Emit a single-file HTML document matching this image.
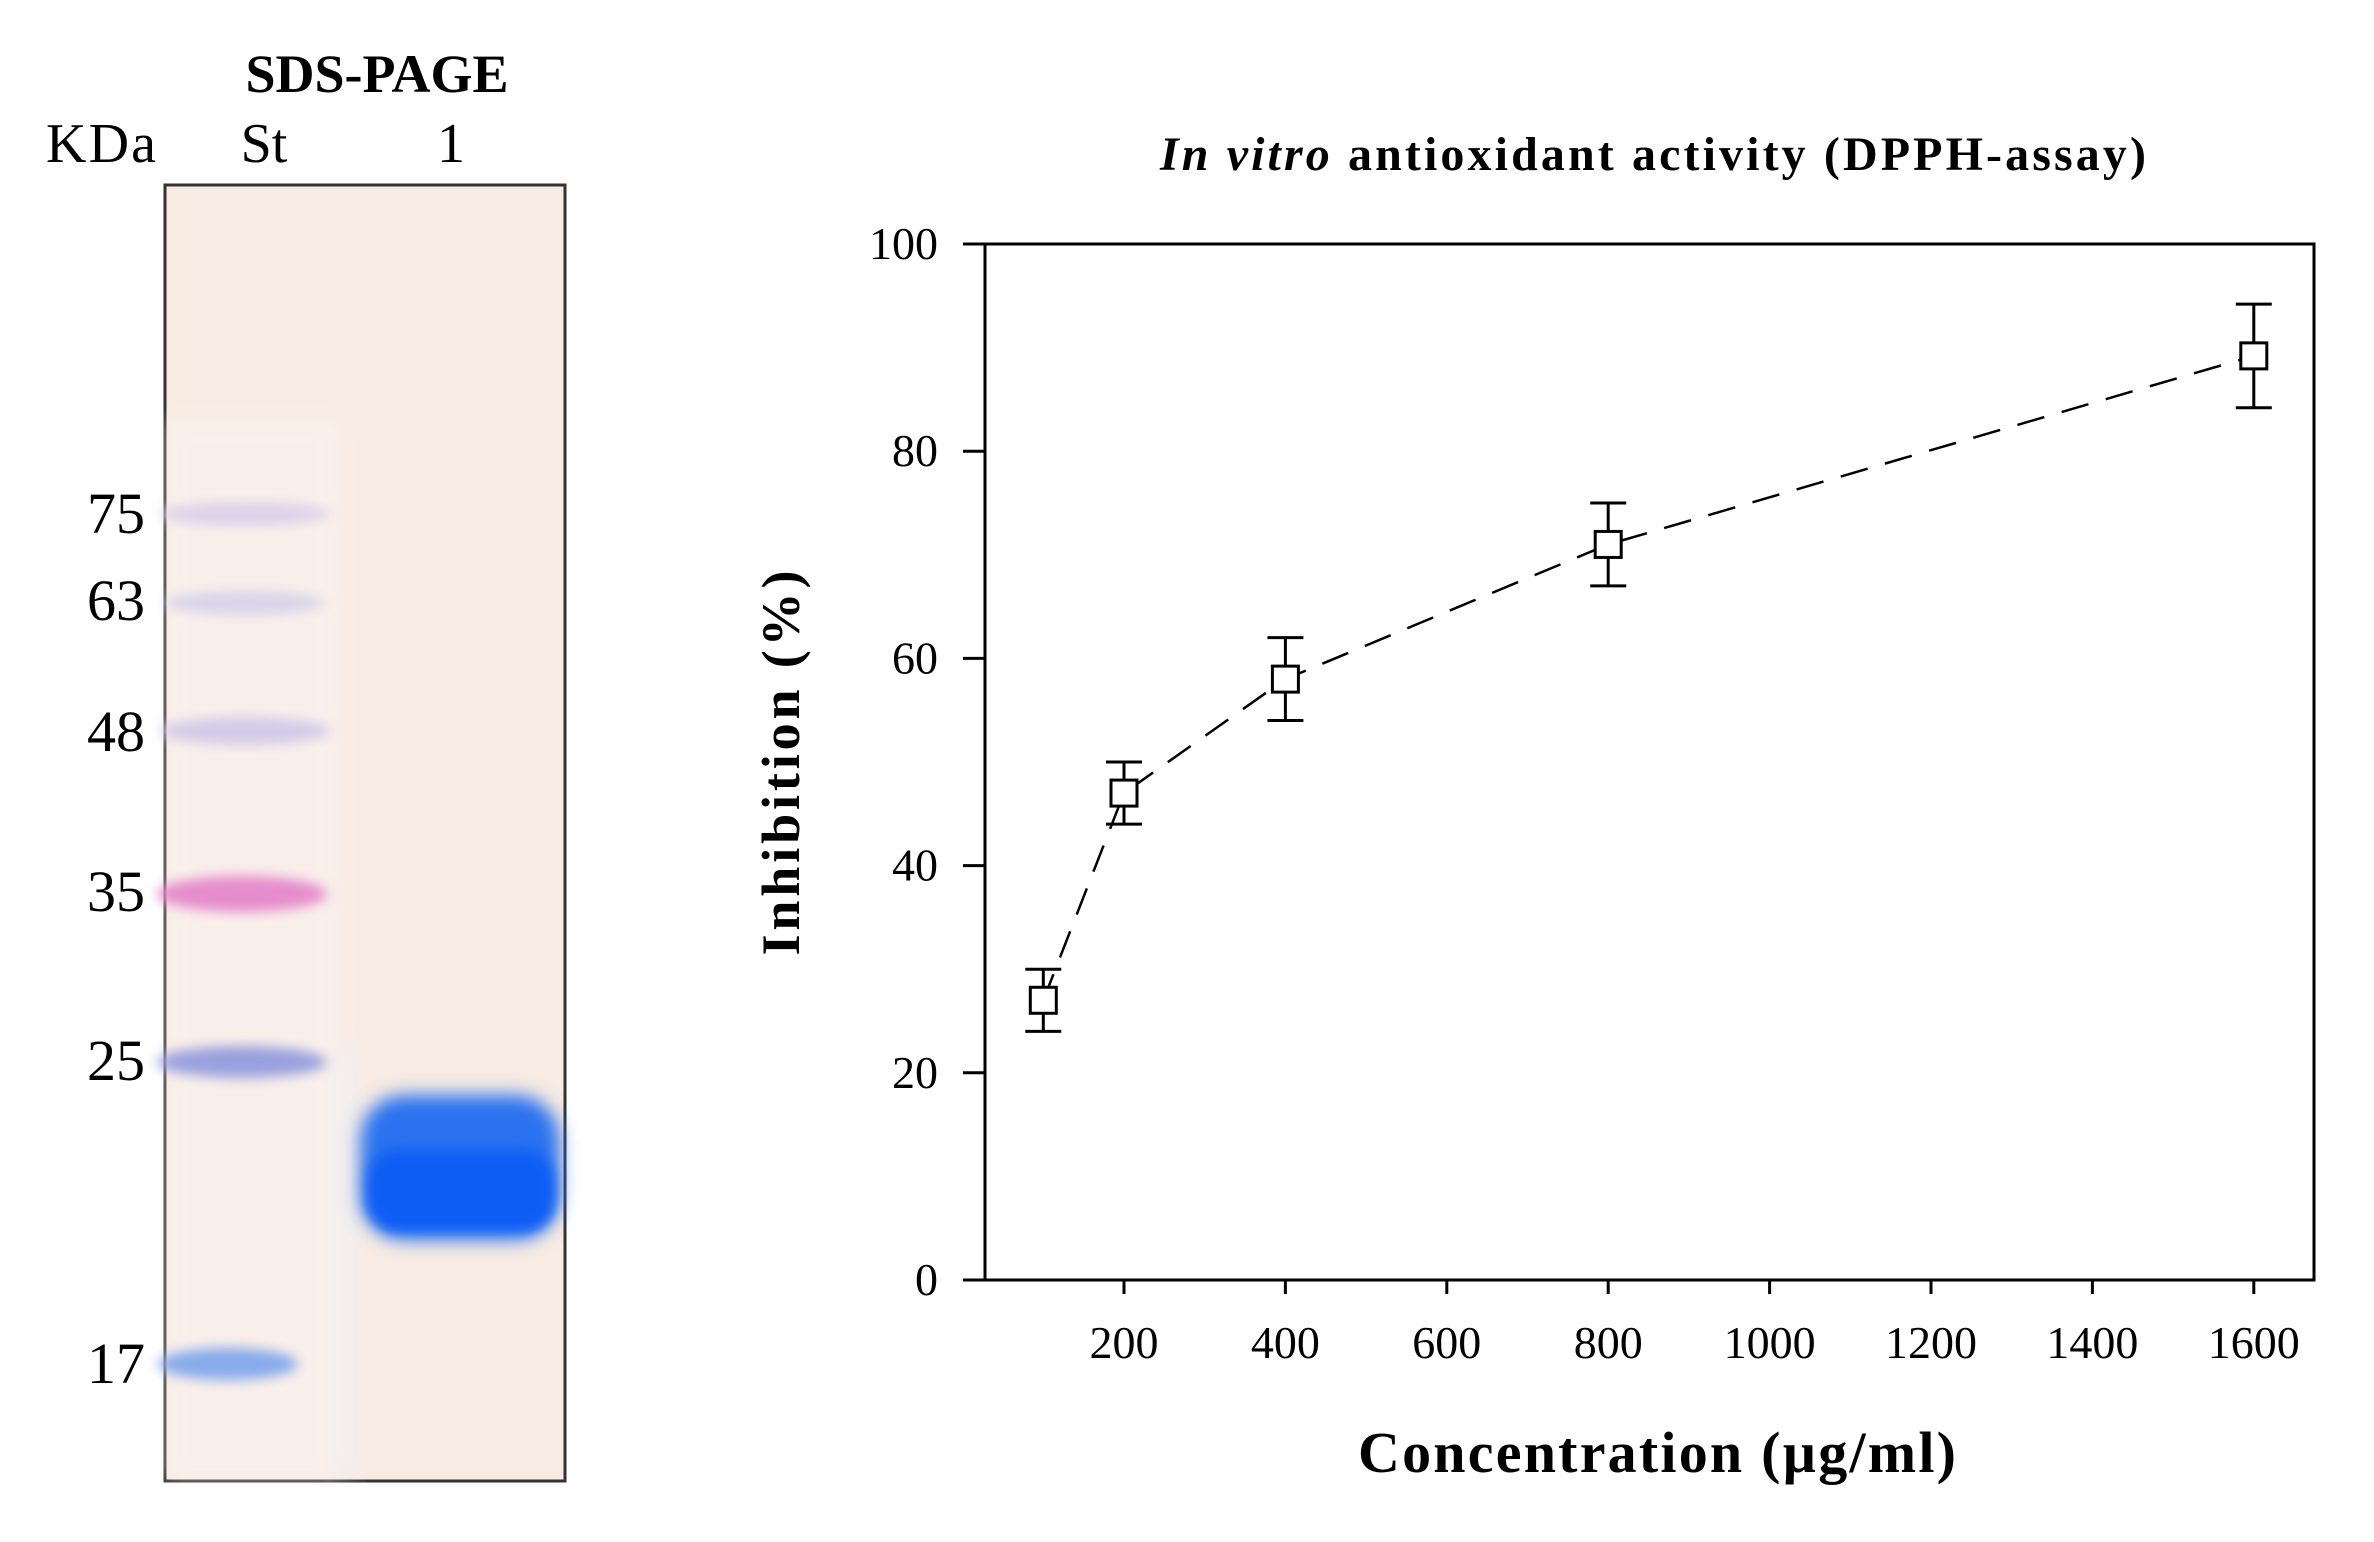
<!DOCTYPE html>
<html><head><meta charset="utf-8"><style>
html,body{margin:0;padding:0;background:#fff;}
svg{display:block;font-family:"Liberation Serif",serif;}
</style></head><body>
<svg id="fig" width="2374" height="1542" viewBox="0 0 2374 1542" xmlns="http://www.w3.org/2000/svg">
<defs>
<filter id="blur8" x="-20%" y="-100%" width="140%" height="300%"><feGaussianBlur stdDeviation="9"/></filter>
<filter id="blur5" x="-20%" y="-100%" width="140%" height="300%"><feGaussianBlur stdDeviation="6"/></filter>
</defs>
<g>
<text x="377" y="92" font-size="54" font-weight="bold" text-anchor="middle">SDS-PAGE</text>
<text x="46" y="162" font-size="56" textLength="110">KDa</text>
<text x="264" y="162" font-size="56" text-anchor="middle">St</text>
<text x="451" y="162" font-size="56" text-anchor="middle">1</text>
<rect x="165" y="185" width="400" height="1296" fill="#f8ebe3" stroke="#333" stroke-width="3"/>
<rect x="168" y="420" width="170" height="1058" fill="#fbf3f0" opacity="0.6" filter="url(#blur8)"/>
<rect x="330" y="1050" width="30" height="425" fill="#eef0fa" opacity="0.5" filter="url(#blur8)"/>
<ellipse cx="245" cy="514" rx="85" ry="12" fill="#dcd2ea" filter="url(#blur5)"/>
<ellipse cx="245" cy="603" rx="80" ry="12" fill="#d8d4ea" filter="url(#blur5)"/>
<ellipse cx="245" cy="731" rx="85" ry="14" fill="#d2cbe8" filter="url(#blur5)"/>
<ellipse cx="242" cy="894" rx="85" ry="18" fill="#e58ccc" filter="url(#blur5)"/>
<ellipse cx="242" cy="1062" rx="85" ry="16" fill="#9aa0df" filter="url(#blur5)"/>
<ellipse cx="228" cy="1364" rx="70" ry="16" fill="#86aaeb" filter="url(#blur5)"/>
<rect x="360" y="1095" width="200" height="145" rx="45" fill="#2a72ef" filter="url(#blur8)"/>
<rect x="368" y="1150" width="186" height="80" rx="30" fill="#0b5df5" filter="url(#blur5)"/>
<text x="145" y="533" font-size="58" text-anchor="end">75</text>
<text x="145" y="620" font-size="58" text-anchor="end">63</text>
<text x="145" y="751" font-size="58" text-anchor="end">48</text>
<text x="145" y="911" font-size="58" text-anchor="end">35</text>
<text x="145" y="1080" font-size="58" text-anchor="end">25</text>
<text x="145" y="1383" font-size="58" text-anchor="end">17</text>
</g>
<g id="chart">
<text x="1653" y="170" font-size="48" font-weight="bold" text-anchor="middle" textLength="986"><tspan font-style="italic">In vitro</tspan> antioxidant activity (DPPH-assay)</text>
<text x="0" y="0" font-size="54" font-weight="bold" text-anchor="middle" textLength="385" transform="translate(799,763) rotate(-90)">Inhibition (%)</text>
<text x="1657" y="1472" font-size="58" font-weight="bold" text-anchor="middle" textLength="598">Concentration (µg/ml)</text>
</g>
</svg>
<script>
const xCats=[100,200,400,800,1600];
const yVals=[27,47,58,71,89.2];
const yErr=[3,3,4,4,5];
const xTicks=[200,400,600,800,1000,1200,1400,1600];
const yTicks=[0,20,40,60,80,100];
const NS='http://www.w3.org/2000/svg';
const chart=document.getElementById('chart');
const L=985,R=2314,T=244,B=1280;
function sx(v){return 962.6+(v)*(161.4/200);}
function sy(v){return B-(v/100)*(B-T);}
function mk(tag,attrs,parent){const e=document.createElementNS(NS,tag);for(const k in attrs)e.setAttribute(k,attrs[k]);(parent||chart).appendChild(e);return e;}
const frame=mk('rect',{x:L,y:T,width:R-L,height:B-T,fill:'none',stroke:'#000','stroke-width':3});


yTicks.forEach(t=>{
  const ln=mk('line',{x1:963,x2:L,y1:sy(t),y2:sy(t),stroke:'#000','stroke-width':3});
  
  
  const tx=mk('text',{x:938,y:sy(t)+15,'font-size':46,'text-anchor':'end'});
  tx.textContent=t;
  
  
});
xTicks.forEach(t=>{
  const ln=mk('line',{x1:sx(t),x2:sx(t),y1:B,y2:B+14,stroke:'#000','stroke-width':3});
  
  
  const tx=mk('text',{x:sx(t),y:1358,'font-size':46,'text-anchor':'middle'});
  tx.textContent=t;
  
  
});
const pts=xCats.map((c,i)=>sx(c)+','+sy(yVals[i])).join(' ');
const line=mk('polyline',{points:pts,fill:'none',stroke:'#000','stroke-width':2.5,'stroke-dasharray':'28 18'});


xCats.forEach((c,i)=>{
  const x=sx(c),y=sy(yVals[i]),yt=sy(yVals[i]+yErr[i]),yb=sy(yVals[i]-yErr[i]);
  const g=mk('g',{});
  
  
  mk('line',{x1:x,x2:x,y1:yt,y2:yb,stroke:'#000','stroke-width':3},g);
  mk('line',{x1:x-18,x2:x+18,y1:yt,y2:yt,stroke:'#000','stroke-width':3},g);
  mk('line',{x1:x-18,x2:x+18,y1:yb,y2:yb,stroke:'#000','stroke-width':3},g);
  mk('rect',{x:x-13,y:y-13,width:26,height:26,fill:'#fff',stroke:'#000','stroke-width':3},g);
});
</script>
</body></html>
